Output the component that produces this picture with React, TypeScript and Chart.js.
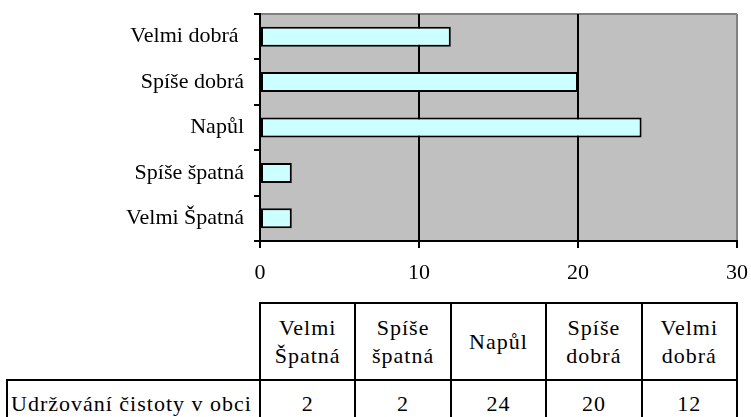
import React, { useEffect, useRef } from "react";
import { Chart, registerables } from "chart.js";

Chart.register(...registerables);

// Data (Excel order: first category drawn at the bottom)
const categories: string[] = ["Velmi Špatná", "Spíše špatná", "Napůl", "Spíše dobrá", "Velmi dobrá "];
const values: number[] = [2, 2, 24, 20, 12];
const tableHeaders: string[][] = [["Velmi", "Špatná"], ["Spíše", "špatná"], ["Napůl"], ["Spíše", "dobrá"], ["Velmi", "dobrá"]];
const seriesName = "Udržování čistoty v obci";
const xTicks: number[] = [0, 10, 20, 30];

const FONT = "'Liberation Serif', 'Times New Roman', Times, serif";
const W = 751;
const H = 417;
const CANVAS_H = 300;
const PLOT_LEFT = 260;
const PLOT_RIGHT = 737;
const PLOT_TOP = 14;
const PLOT_BOTTOM = 241;

const TABLE_LEFT = 7;
const TABLE_TOP = 303;
const ROW1_BOTTOM = 380;
const ROW2_BOTTOM = 428;

const bgPlugin = {
  id: "plotBg",
  beforeDraw(chart: any) {
    const { ctx, chartArea } = chart;
    ctx.save();
    ctx.fillStyle = "#C0C0C0";
    ctx.fillRect(chartArea.left, chartArea.top, chartArea.right - chartArea.left, chartArea.bottom - chartArea.top);
    ctx.strokeStyle = "#808080";
    ctx.lineWidth = 2;
    ctx.beginPath();
    ctx.moveTo(chartArea.left, chartArea.top);
    ctx.lineTo(chartArea.right, chartArea.top);
    ctx.stroke();
    ctx.restore();
  },
};

const zeroPad = (s: any) => {
  s.paddingLeft = 0;
  s.paddingRight = 0;
  s.paddingTop = 0;
  s.paddingBottom = 0;
};

export default function App() {
  const ref = useRef<HTMLCanvasElement | null>(null);

  useEffect(() => {
    if (!ref.current) return;
    const chart = new Chart(ref.current, {
      type: "bar",
      data: {
        labels: categories,
        datasets: [
          {
            label: seriesName,
            data: values,
            backgroundColor: "#CCFFFF",
            borderColor: "#000000",
            borderWidth: 2,
            borderSkipped: false,
            barPercentage: 0.44,
            categoryPercentage: 1,
          },
        ],
      },
      options: {
        indexAxis: "y",
        animation: false,
        responsive: false,
        devicePixelRatio: 1,
        layout: { padding: { left: 0, right: W - PLOT_RIGHT, top: PLOT_TOP, bottom: 0 } },
        plugins: { legend: { display: false }, tooltip: { enabled: false } },
        scales: {
          x: {
            min: 0,
            max: 30,
            afterBuildTicks: (s: any) => {
              s.ticks = xTicks.map((v) => ({ value: v }));
            },
            afterFit: (s: any) => {
              s.height = CANVAS_H - PLOT_BOTTOM;
              zeroPad(s);
            },
            ticks: { color: "#000", font: { family: FONT, size: 22 }, padding: 12 },
            grid: {
              color: (c: any) => (c.tick && c.tick.value === 30 ? "#808080" : c.tick && c.tick.value === 0 ? "rgba(0,0,0,0)" : "#000"),
              lineWidth: 2,
              tickColor: "#000",
              tickLength: 7,
            },
            border: { color: "#000", width: 2 },
          },
          y: {
            reverse: true,
            afterFit: (s: any) => {
              s.width = PLOT_LEFT;
              zeroPad(s);
            },
            ticks: { color: "#000", font: { family: FONT, size: 22 }, padding: 10 },
            grid: { drawOnChartArea: false, offset: true, tickColor: "#000", tickLength: 6, lineWidth: 2 },
            border: { color: "#000", width: 2 },
          },
        },
      } as any,
      plugins: [bgPlugin],
    });
    return () => chart.destroy();
  }, []);

  const colW = (PLOT_RIGHT - PLOT_LEFT) / categories.length;
  const colEdges = categories.map((_, i) => PLOT_LEFT + i * colW);

  const cell = (key: string, x0: number, x1: number, y0: number, y1: number, content: React.ReactNode, align: "center" | "left" = "center") => (
    <div
      key={key}
      style={{
        position: "absolute",
        left: x0 - 1,
        top: y0 - 1,
        width: x1 - x0 + 2,
        height: y1 - y0 + 2,
        boxSizing: "border-box",
        border: "2px solid #000",
        display: "flex",
        flexDirection: "column",
        justifyContent: "center",
        alignItems: align === "center" ? "center" : "flex-start",
        paddingLeft: align === "left" ? 3 : 0,
        fontFamily: FONT,
        fontSize: 22,
        lineHeight: "28px",
        letterSpacing: "1px",
        color: "#000",
        textAlign: "center",
        whiteSpace: "nowrap",
      }}
    >
      {content}
    </div>
  );

  return (
    <div style={{ position: "fixed", left: 0, top: 0, width: W, height: H, overflow: "hidden", background: "#fff" }}>
      <canvas ref={ref} width={W} height={CANVAS_H} style={{ position: "absolute", left: 0, top: 0, width: W, height: CANVAS_H }} />
      {tableHeaders.map((lines, i) =>
        cell(
          "h" + i,
          colEdges[i],
          colEdges[i] + colW,
          TABLE_TOP,
          ROW1_BOTTOM,
          lines.map((l, j) => <div key={j}>{l}</div>)
        )
      )}
      {cell("lbl", TABLE_LEFT, PLOT_LEFT, ROW1_BOTTOM, ROW2_BOTTOM, seriesName, "left")}
      {values.map((v, i) => cell("v" + i, colEdges[i], colEdges[i] + colW, ROW1_BOTTOM, ROW2_BOTTOM, String(v)))}
    </div>
  );
}
